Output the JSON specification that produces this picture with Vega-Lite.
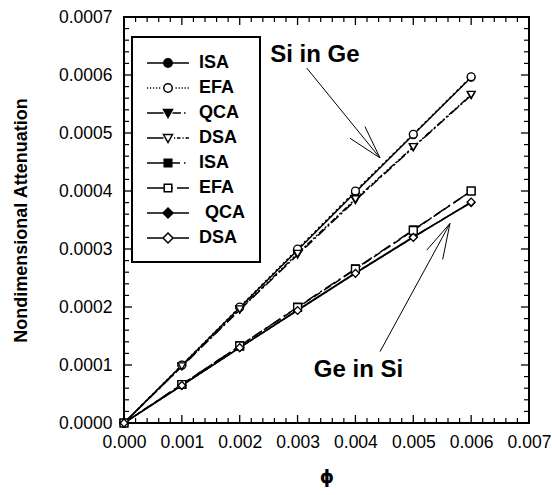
{
  "$schema": "https://vega.github.io/schema/vega-lite/v6.json",
  "width": 405,
  "height": 406,
  "autosize": {"type": "none"},
  "padding": {"left": 124, "top": 17, "right": 23, "bottom": 72},
  "background": "white",
  "datasets": {
    "curves": [
      {"series": "ISA Si in Ge", "phi": 0, "att": 0},
      {"series": "ISA Si in Ge", "phi": 0.001, "att": 0.0000995},
      {"series": "ISA Si in Ge", "phi": 0.002, "att": 0.000199},
      {"series": "ISA Si in Ge", "phi": 0.003, "att": 0.000298},
      {"series": "ISA Si in Ge", "phi": 0.004, "att": 0.000398},
      {"series": "ISA Si in Ge", "phi": 0.005, "att": 0.000497},
      {"series": "ISA Si in Ge", "phi": 0.006, "att": 0.000596},
      {"series": "QCA Si in Ge", "phi": 0, "att": 0},
      {"series": "QCA Si in Ge", "phi": 0.001, "att": 0.0000975},
      {"series": "QCA Si in Ge", "phi": 0.002, "att": 0.000195},
      {"series": "QCA Si in Ge", "phi": 0.003, "att": 0.00029},
      {"series": "QCA Si in Ge", "phi": 0.004, "att": 0.000384},
      {"series": "QCA Si in Ge", "phi": 0.005, "att": 0.000475},
      {"series": "QCA Si in Ge", "phi": 0.006, "att": 0.000565},
      {"series": "ISA Ge in Si", "phi": 0, "att": 0},
      {"series": "ISA Ge in Si", "phi": 0.001, "att": 0.0000665},
      {"series": "ISA Ge in Si", "phi": 0.002, "att": 0.000133},
      {"series": "ISA Ge in Si", "phi": 0.003, "att": 0.0002},
      {"series": "ISA Ge in Si", "phi": 0.004, "att": 0.000266},
      {"series": "ISA Ge in Si", "phi": 0.005, "att": 0.000333},
      {"series": "ISA Ge in Si", "phi": 0.006, "att": 0.0004},
      {"series": "QCA Ge in Si", "phi": 0, "att": 0},
      {"series": "QCA Ge in Si", "phi": 0.001, "att": 0.0000648},
      {"series": "QCA Ge in Si", "phi": 0.002, "att": 0.00013},
      {"series": "QCA Ge in Si", "phi": 0.003, "att": 0.000195},
      {"series": "QCA Ge in Si", "phi": 0.004, "att": 0.000259},
      {"series": "QCA Ge in Si", "phi": 0.005, "att": 0.000321},
      {"series": "QCA Ge in Si", "phi": 0.006, "att": 0.00038},
      {"series": "EFA Si in Ge", "phi": 0, "att": 0},
      {"series": "EFA Si in Ge", "phi": 0.001, "att": 0.0001},
      {"series": "EFA Si in Ge", "phi": 0.002, "att": 0.0002},
      {"series": "EFA Si in Ge", "phi": 0.003, "att": 0.0003},
      {"series": "EFA Si in Ge", "phi": 0.004, "att": 0.0004},
      {"series": "EFA Si in Ge", "phi": 0.005, "att": 0.000498},
      {"series": "EFA Si in Ge", "phi": 0.006, "att": 0.000597},
      {"series": "DSA Si in Ge", "phi": 0, "att": 0},
      {"series": "DSA Si in Ge", "phi": 0.001, "att": 0.000098},
      {"series": "DSA Si in Ge", "phi": 0.002, "att": 0.000196},
      {"series": "DSA Si in Ge", "phi": 0.003, "att": 0.000292},
      {"series": "DSA Si in Ge", "phi": 0.004, "att": 0.000386},
      {"series": "DSA Si in Ge", "phi": 0.005, "att": 0.000476},
      {"series": "DSA Si in Ge", "phi": 0.006, "att": 0.000566},
      {"series": "EFA Ge in Si", "phi": 0, "att": 0},
      {"series": "EFA Ge in Si", "phi": 0.001, "att": 0.0000665},
      {"series": "EFA Ge in Si", "phi": 0.002, "att": 0.000133},
      {"series": "EFA Ge in Si", "phi": 0.003, "att": 0.000199},
      {"series": "EFA Ge in Si", "phi": 0.004, "att": 0.000265},
      {"series": "EFA Ge in Si", "phi": 0.005, "att": 0.000332},
      {"series": "EFA Ge in Si", "phi": 0.006, "att": 0.0004},
      {"series": "DSA Ge in Si", "phi": 0, "att": 0},
      {"series": "DSA Ge in Si", "phi": 0.001, "att": 0.0000648},
      {"series": "DSA Ge in Si", "phi": 0.002, "att": 0.00013},
      {"series": "DSA Ge in Si", "phi": 0.003, "att": 0.000194},
      {"series": "DSA Ge in Si", "phi": 0.004, "att": 0.000258},
      {"series": "DSA Ge in Si", "phi": 0.005, "att": 0.00032},
      {"series": "DSA Ge in Si", "phi": 0.006, "att": 0.000381}
    ],
    "scaleticks": [
      {"axis": "x", "kind": "major", "value": 0.001},
      {"axis": "x", "kind": "major", "value": 0.002},
      {"axis": "x", "kind": "major", "value": 0.003},
      {"axis": "x", "kind": "major", "value": 0.004},
      {"axis": "x", "kind": "major", "value": 0.005},
      {"axis": "x", "kind": "major", "value": 0.006},
      {"axis": "x", "kind": "minor", "value": 0.0002},
      {"axis": "x", "kind": "minor", "value": 0.0004},
      {"axis": "x", "kind": "minor", "value": 0.0006},
      {"axis": "x", "kind": "minor", "value": 0.0008},
      {"axis": "x", "kind": "minor", "value": 0.0012},
      {"axis": "x", "kind": "minor", "value": 0.0014},
      {"axis": "x", "kind": "minor", "value": 0.0016},
      {"axis": "x", "kind": "minor", "value": 0.0018},
      {"axis": "x", "kind": "minor", "value": 0.0022},
      {"axis": "x", "kind": "minor", "value": 0.0024},
      {"axis": "x", "kind": "minor", "value": 0.0026},
      {"axis": "x", "kind": "minor", "value": 0.0028},
      {"axis": "x", "kind": "minor", "value": 0.0032},
      {"axis": "x", "kind": "minor", "value": 0.0034},
      {"axis": "x", "kind": "minor", "value": 0.0036},
      {"axis": "x", "kind": "minor", "value": 0.0038},
      {"axis": "x", "kind": "minor", "value": 0.0042},
      {"axis": "x", "kind": "minor", "value": 0.0044},
      {"axis": "x", "kind": "minor", "value": 0.0046},
      {"axis": "x", "kind": "minor", "value": 0.0048},
      {"axis": "x", "kind": "minor", "value": 0.0052},
      {"axis": "x", "kind": "minor", "value": 0.0054},
      {"axis": "x", "kind": "minor", "value": 0.0056},
      {"axis": "x", "kind": "minor", "value": 0.0058},
      {"axis": "x", "kind": "minor", "value": 0.0062},
      {"axis": "x", "kind": "minor", "value": 0.0064},
      {"axis": "x", "kind": "minor", "value": 0.0066},
      {"axis": "x", "kind": "minor", "value": 0.0068},
      {"axis": "y", "kind": "major", "value": 0.0001},
      {"axis": "y", "kind": "major", "value": 0.0002},
      {"axis": "y", "kind": "major", "value": 0.0003},
      {"axis": "y", "kind": "major", "value": 0.0004},
      {"axis": "y", "kind": "major", "value": 0.0005},
      {"axis": "y", "kind": "major", "value": 0.0006},
      {"axis": "y", "kind": "minor", "value": 0.00002},
      {"axis": "y", "kind": "minor", "value": 0.00004},
      {"axis": "y", "kind": "minor", "value": 0.00006},
      {"axis": "y", "kind": "minor", "value": 0.00008},
      {"axis": "y", "kind": "minor", "value": 0.00012},
      {"axis": "y", "kind": "minor", "value": 0.00014},
      {"axis": "y", "kind": "minor", "value": 0.00016},
      {"axis": "y", "kind": "minor", "value": 0.00018},
      {"axis": "y", "kind": "minor", "value": 0.00022},
      {"axis": "y", "kind": "minor", "value": 0.00024},
      {"axis": "y", "kind": "minor", "value": 0.00026},
      {"axis": "y", "kind": "minor", "value": 0.00028},
      {"axis": "y", "kind": "minor", "value": 0.00032},
      {"axis": "y", "kind": "minor", "value": 0.00034},
      {"axis": "y", "kind": "minor", "value": 0.00036},
      {"axis": "y", "kind": "minor", "value": 0.00038},
      {"axis": "y", "kind": "minor", "value": 0.00042},
      {"axis": "y", "kind": "minor", "value": 0.00044},
      {"axis": "y", "kind": "minor", "value": 0.00046},
      {"axis": "y", "kind": "minor", "value": 0.00048},
      {"axis": "y", "kind": "minor", "value": 0.00052},
      {"axis": "y", "kind": "minor", "value": 0.00054},
      {"axis": "y", "kind": "minor", "value": 0.00056},
      {"axis": "y", "kind": "minor", "value": 0.00058},
      {"axis": "y", "kind": "minor", "value": 0.00062},
      {"axis": "y", "kind": "minor", "value": 0.00064},
      {"axis": "y", "kind": "minor", "value": 0.00066},
      {"axis": "y", "kind": "minor", "value": 0.00068}
    ],
    "arrows": [
      {"label": "Si in Ge", "x1": 0.003158, "y1": 0.000612, "x2": 0.004425, "y2": 0.000457},
      {"label": "Si in Ge", "x1": 0.003906, "y1": 0.000491, "x2": 0.004425, "y2": 0.000457},
      {"label": "Si in Ge", "x1": 0.004165, "y1": 0.000511, "x2": 0.004425, "y2": 0.000457},
      {"label": "Ge in Si", "x1": 0.004425, "y1": 0.000123, "x2": 0.005634, "y2": 0.000344},
      {"label": "Ge in Si", "x1": 0.005232, "y1": 0.000298, "x2": 0.005634, "y2": 0.000344},
      {"label": "Ge in Si", "x1": 0.005508, "y1": 0.000282, "x2": 0.005634, "y2": 0.000344}
    ],
    "labels": [
      {"text": "Si in Ge", "x": 0.0033, "y": 0.000622},
      {"text": "Ge in Si", "x": 0.004053, "y": 0.0000793}
    ]
  },
  "layer": [
    {
      "data": {"name": "curves"},
      "mark": {"type": "line", "color": "black", "strokeWidth": 1.5},
      "encoding": {
        "x": {"field": "phi", "type": "quantitative", "title": "ϕ",
          "scale": {"domain": [0, 0.007], "nice": false, "zero": false},
          "axis": {"orient": "bottom", "values": [0, 0.001, 0.002, 0.003, 0.004, 0.005, 0.006, 0.007], "format": ".3f", "ticks": false, "tickSize": 0, "labelPadding": 10, "titlePadding": 18, "titleFontSize": 18, "titleFont": "DejaVu Sans"}},
        "y": {"field": "att", "type": "quantitative", "title": "Nondimensional Attenuation",
          "scale": {"domain": [0, 0.0007], "nice": false, "zero": false},
          "axis": {"orient": "left", "values": [0, 0.0001, 0.0002, 0.0003, 0.0004, 0.0005, 0.0006, 0.0007], "format": ".4f", "ticks": false, "tickSize": 0, "labelPadding": 12, "titlePadding": 28}},
        "detail": {"field": "series", "type": "nominal"},
        "strokeDash": {"field": "series", "type": "nominal", "legend": null,
          "scale": {"domain": ["ISA Si in Ge", "EFA Si in Ge", "QCA Si in Ge", "DSA Si in Ge", "ISA Ge in Si", "EFA Ge in Si", "QCA Ge in Si", "DSA Ge in Si"],
            "range": [[1, 0], [2, 3], [10, 3, 2, 3], [6, 2, 2, 2, 2, 2], [12, 4, 2, 4], [8, 4], [1, 0], [1, 0]]}}
      }
    },
    {
      "data": {"name": "scaleticks"},
      "transform": [{"filter": "datum.axis == 'x' && datum.kind == 'major'"}],
      "mark": {"type": "rule", "color": "black", "strokeWidth": 1.3},
      "encoding": {
        "x": {"field": "value", "type": "quantitative", "axis": null, "scale": {"domain": [0, 0.007], "nice": false, "zero": false}},
        "y": {"datum": 0, "type": "quantitative", "axis": null, "scale": {"domain": [0, 0.0007], "nice": false, "zero": false}},
        "y2": {"datum": 0.0000138}
      }
    },
    {
      "data": {"name": "scaleticks"},
      "transform": [{"filter": "datum.axis == 'x' && datum.kind == 'minor'"}],
      "mark": {"type": "rule", "color": "black", "strokeWidth": 1.2},
      "encoding": {
        "x": {"field": "value", "type": "quantitative", "axis": null, "scale": {"domain": [0, 0.007], "nice": false, "zero": false}},
        "y": {"datum": 0, "type": "quantitative", "axis": null, "scale": {"domain": [0, 0.0007], "nice": false, "zero": false}},
        "y2": {"datum": 0.0000086}
      }
    },
    {
      "data": {"name": "scaleticks"},
      "transform": [{"filter": "datum.axis == 'x' && datum.kind == 'major'"}],
      "mark": {"type": "rule", "color": "black", "strokeWidth": 1.3},
      "encoding": {
        "x": {"field": "value", "type": "quantitative", "axis": null, "scale": {"domain": [0, 0.007], "nice": false, "zero": false}},
        "y": {"datum": 0.0007, "type": "quantitative", "axis": null, "scale": {"domain": [0, 0.0007], "nice": false, "zero": false}},
        "y2": {"datum": 0.0006862}
      }
    },
    {
      "data": {"name": "scaleticks"},
      "transform": [{"filter": "datum.axis == 'x' && datum.kind == 'minor'"}],
      "mark": {"type": "rule", "color": "black", "strokeWidth": 1.2},
      "encoding": {
        "x": {"field": "value", "type": "quantitative", "axis": null, "scale": {"domain": [0, 0.007], "nice": false, "zero": false}},
        "y": {"datum": 0.0007, "type": "quantitative", "axis": null, "scale": {"domain": [0, 0.0007], "nice": false, "zero": false}},
        "y2": {"datum": 0.0006914}
      }
    },
    {
      "data": {"name": "scaleticks"},
      "transform": [{"filter": "datum.axis == 'y' && datum.kind == 'major'"}],
      "mark": {"type": "rule", "color": "black", "strokeWidth": 1.3},
      "encoding": {
        "y": {"field": "value", "type": "quantitative", "axis": null, "scale": {"domain": [0, 0.0007], "nice": false, "zero": false}},
        "x": {"datum": 0, "type": "quantitative", "axis": null, "scale": {"domain": [0, 0.007], "nice": false, "zero": false}},
        "x2": {"datum": 0.000138}
      }
    },
    {
      "data": {"name": "scaleticks"},
      "transform": [{"filter": "datum.axis == 'y' && datum.kind == 'minor'"}],
      "mark": {"type": "rule", "color": "black", "strokeWidth": 1.2},
      "encoding": {
        "y": {"field": "value", "type": "quantitative", "axis": null, "scale": {"domain": [0, 0.0007], "nice": false, "zero": false}},
        "x": {"datum": 0, "type": "quantitative", "axis": null, "scale": {"domain": [0, 0.007], "nice": false, "zero": false}},
        "x2": {"datum": 0.0000864}
      }
    },
    {
      "data": {"name": "scaleticks"},
      "transform": [{"filter": "datum.axis == 'y' && datum.kind == 'major'"}],
      "mark": {"type": "rule", "color": "black", "strokeWidth": 1.3},
      "encoding": {
        "y": {"field": "value", "type": "quantitative", "axis": null, "scale": {"domain": [0, 0.0007], "nice": false, "zero": false}},
        "x": {"datum": 0.007, "type": "quantitative", "axis": null, "scale": {"domain": [0, 0.007], "nice": false, "zero": false}},
        "x2": {"datum": 0.006862}
      }
    },
    {
      "data": {"name": "scaleticks"},
      "transform": [{"filter": "datum.axis == 'y' && datum.kind == 'minor'"}],
      "mark": {"type": "rule", "color": "black", "strokeWidth": 1.2},
      "encoding": {
        "y": {"field": "value", "type": "quantitative", "axis": null, "scale": {"domain": [0, 0.0007], "nice": false, "zero": false}},
        "x": {"datum": 0.007, "type": "quantitative", "axis": null, "scale": {"domain": [0, 0.007], "nice": false, "zero": false}},
        "x2": {"datum": 0.0069136}
      }
    },
    {
      "data": {"name": "curves"},
      "mark": {"type": "point", "stroke": "black", "strokeWidth": 1.3, "opacity": 1, "size": 60},
      "encoding": {
        "x": {"field": "phi", "type": "quantitative", "axis": null,
          "scale": {"domain": [0, 0.007], "nice": false, "zero": false}},
        "y": {"field": "att", "type": "quantitative", "axis": null,
          "scale": {"domain": [0, 0.0007], "nice": false, "zero": false}},
        "shape": {"field": "series", "type": "nominal", "legend": null,
          "scale": {"domain": ["ISA Si in Ge", "EFA Si in Ge", "QCA Si in Ge", "DSA Si in Ge", "ISA Ge in Si", "EFA Ge in Si", "QCA Ge in Si", "DSA Ge in Si"],
            "range": ["circle", "circle", "triangle-down", "triangle-down", "square", "square", "diamond", "diamond"]}},
        "fill": {"field": "series", "type": "nominal", "legend": null,
          "scale": {"domain": ["ISA Si in Ge", "EFA Si in Ge", "QCA Si in Ge", "DSA Si in Ge", "ISA Ge in Si", "EFA Ge in Si", "QCA Ge in Si", "DSA Ge in Si"],
            "range": ["black", "white", "black", "white", "black", "white", "black", "white"]}}
      }
    },
    {
      "data": {"name": "curves"},
      "mark": {"type": "point", "stroke": "black", "opacity": 0, "size": 400},
      "encoding": {
        "x": {"field": "phi", "type": "quantitative", "axis": null,
          "scale": {"domain": [0, 0.007], "nice": false, "zero": false}},
        "y": {"field": "att", "type": "quantitative", "axis": null,
          "scale": {"domain": [0, 0.0007], "nice": false, "zero": false}},
        "shape": {"field": "series", "type": "nominal",
          "scale": {"domain": ["ISA Si in Ge", "EFA Si in Ge", "QCA Si in Ge", "DSA Si in Ge", "ISA Ge in Si", "EFA Ge in Si", "QCA Ge in Si", "DSA Ge in Si"],
            "range": [
              "M-2.1,0H-0.42M0.42,0H2.1M-0.42,0A0.42,0.42,0,1,1,0.42,0A0.42,0.42,0,1,1,-0.42,0Z",
              "M-2.1,0h0.12M-1.8,0h0.12M-1.5,0h0.12M-1.2,0h0.12M-0.9,0h0.12M0.75,0h0.12M1.05,0h0.12M1.35,0h0.12M1.65,0h0.12M1.95,0h0.12M-0.42,0A0.42,0.42,0,1,1,0.42,0A0.42,0.42,0,1,1,-0.42,0Z",
              "M-2.1,0H-0.45M0.45,0H1.3M1.6,0h0.15M-0.45,-0.35L0.45,-0.35L0,0.45Z",
              "M-2.1,0H-0.45M0.6,0h0.12M0.9,0h0.35M1.45,0h0.12M1.75,0h0.35M-0.45,-0.35L0.45,-0.35L0,0.45Z",
              "M-2.1,0H-0.38M0.38,0H1.2M1.6,0h0.15M-0.38,-0.38H0.38V0.38H-0.38Z",
              "M-2.1,0H-0.38M0.38,0H0.5M0.9,0H2.1M-0.38,-0.38H0.38V0.38H-0.38Z",
              "M-2.1,0H-0.5M0.5,0H2.1M0,-0.5L0.5,0L0,0.5L-0.5,0Z",
              "M-2.1,0H-0.5M0.5,0H2.1M0,-0.5L0.5,0L0,0.5L-0.5,0Z"
            ]},
          "legend": {"orient": "none", "legendX": 8, "legendY": 20, "title": null,
            "symbolStrokeColor": "black", "symbolStrokeWidth": 1.5,
            "labelExpr": "slice(datum.value, 0, 3)",
            "encode": {"symbols": {"update": {"stroke": {"value": "black"}, "strokeWidth": {"value": 1.5}, "opacity": {"value": 1}}},
                       "labels": {"update": {"dx": {"signal": "indexof(datum.value, 'QCA Ge') >= 0 ? 6 : 0"}}}}}},
        "fill": {"field": "series", "type": "nominal",
          "scale": {"domain": ["ISA Si in Ge", "EFA Si in Ge", "QCA Si in Ge", "DSA Si in Ge", "ISA Ge in Si", "EFA Ge in Si", "QCA Ge in Si", "DSA Ge in Si"],
            "range": ["black", "white", "black", "white", "black", "white", "black", "white"]},
          "legend": {"orient": "none", "legendX": 8, "legendY": 20, "title": null,
            "symbolStrokeColor": "black", "symbolStrokeWidth": 1.5,
            "labelExpr": "slice(datum.value, 0, 3)",
            "encode": {"symbols": {"update": {"stroke": {"value": "black"}, "strokeWidth": {"value": 1.5}, "opacity": {"value": 1}}},
                       "labels": {"update": {"dx": {"signal": "indexof(datum.value, 'QCA Ge') >= 0 ? 6 : 0"}}}}}}
      }
    },
    {
      "data": {"name": "arrows"},
      "mark": {"type": "rule", "color": "black", "strokeWidth": 1},
      "encoding": {
        "x": {"field": "x1", "type": "quantitative", "axis": null,
          "scale": {"domain": [0, 0.007], "nice": false, "zero": false}},
        "y": {"field": "y1", "type": "quantitative", "axis": null,
          "scale": {"domain": [0, 0.0007], "nice": false, "zero": false}},
        "x2": {"field": "x2"},
        "y2": {"field": "y2"}
      }
    },
    {
      "data": {"name": "labels"},
      "mark": {"type": "text", "font": "Liberation Sans", "fontSize": 24, "fontWeight": "bold", "color": "black", "align": "center", "baseline": "alphabetic"},
      "encoding": {
        "x": {"field": "x", "type": "quantitative", "axis": null,
          "scale": {"domain": [0, 0.007], "nice": false, "zero": false}},
        "y": {"field": "y", "type": "quantitative", "axis": null,
          "scale": {"domain": [0, 0.0007], "nice": false, "zero": false}},
        "text": {"field": "text"}
      }
    }
  ],
  "resolve": {
    "scale": {"shape": "independent", "fill": "independent"},
    "axis": {"x": "independent", "y": "independent"},
    "legend": {"shape": "independent", "fill": "independent"}
  },
  "config": {
    "font": "Liberation Sans",
    "view": {"stroke": "black", "strokeWidth": 2},
    "axis": {
      "domain": false, "grid": false,
      "labelFlush": false, "labelOverlap": false,
      "labelFont": "Liberation Sans", "labelFontSize": 17.5, "labelColor": "black",
      "titleFont": "Liberation Sans", "titleFontSize": 18, "titleFontWeight": "bold", "titleColor": "black"
    },
    "legend": {
      "symbolSize": 400, "symbolStrokeColor": "black", "symbolStrokeWidth": 1.5, "symbolOpacity": 1,
      "labelFont": "Liberation Sans", "labelFontSize": 18, "labelFontWeight": "bold", "labelColor": "black",
      "padding": 15, "rowPadding": 5, "symbolOffset": 10, "labelOffset": 20,
      "strokeColor": "black", "strokeWidth": 2
    }
  }
}
